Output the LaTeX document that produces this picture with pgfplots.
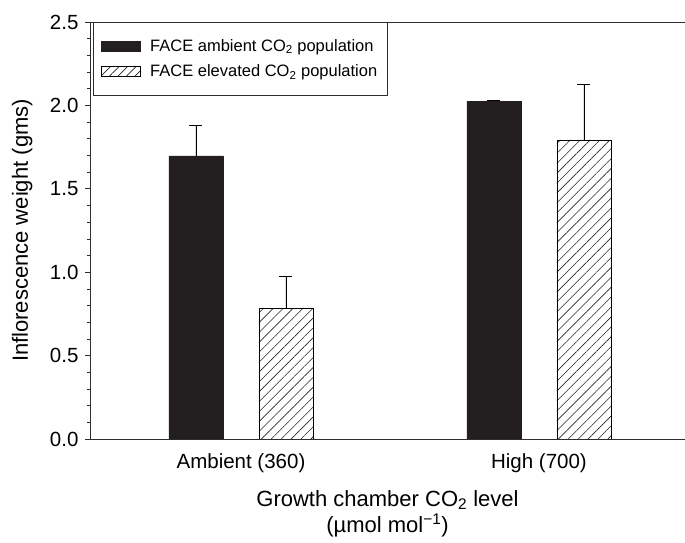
\documentclass[border=0pt]{standalone}
\usepackage{fontspec}
\setmainfont{Liberation Sans}
\usepackage{pgfplots}
\pgfplotsset{compat=1.18}
\usetikzlibrary{patterns.meta}
\definecolor{barblack}{RGB}{35,31,32}
\definecolor{axgray}{RGB}{45,45,45}
\begin{document}
\begin{tikzpicture}
\begin{axis}[
  scale only axis, width=595pt, height=417pt,
  xmin=-0.5067, xmax=1.490, ymin=0, ymax=2.5,
  axis line style={draw=none},
  xtick={0,1}, xticklabels={Ambient (360), High (700)},
  x tick style={draw=none},
  ytick={0,0.5,1,1.5,2,2.5},
  minor y tick num=4,
  ytick pos=left, tick align=outside,
  major tick length=5pt, minor tick length=3pt,
  y tick style={axgray, line width=0.7pt},
  minor y tick style={axgray, line width=0.6pt},
  yticklabel style={/pgf/number format/fixed, /pgf/number format/fixed zerofill, /pgf/number format/precision=1, /pgf/number format/assume math mode=true, xshift=-3pt},
  tick label style={font=\fontsize{20.5}{24}\selectfont},
  xticklabel style={yshift=-6pt},
  ylabel={Inflorescence weight (gms)},
  every axis y label/.style={at={(axis description cs:-0.114,0.5)}, rotate=90, anchor=center, font=\fontsize{22}{26}\selectfont},
  xlabel={Growth chamber CO\textsubscript{2} level\\(µmol mol\textsuperscript{−1})},
  every axis x label/.style={at={(axis description cs:0.5,0)}, anchor=north, yshift=-51pt, align=center, inner sep=0pt, font=\fontsize{22}{26}\selectfont},
  legend style={at={(rel axis cs:0.005,1)}, anchor=north west, draw=axgray, line width=0.8pt,
    font=\fontsize{16.5}{19}\selectfont, inner xsep=8pt, inner ysep=15pt, row sep=8pt, cells={anchor=west}},
  legend cell align=left,
]
\addplot[ybar, bar width=54pt, bar shift=0pt, fill=barblack, draw=barblack,
  legend image code/.code={\draw[fill=barblack, draw=barblack] (0pt,-5pt) rectangle (39pt,5pt); \path (46pt,0pt);},
  error bars/.cd, y dir=plus, y explicit,
  error bar style={line width=0.8pt, black},
  error mark options={rotate=90, mark size=6.5pt, line width=0.8pt, black}]
  coordinates {(-0.151,1.697) +- (0,0.186) (0.849,2.026) +- (0,0.004)};
\addlegendentry{FACE ambient CO\textsubscript{2} population}
\addplot[ybar, bar width=54pt, bar shift=0pt, draw=black, line width=0.8pt,
  pattern={Lines[angle=45,distance=7pt,line width=0.6pt]}, pattern color=black!85,
  legend image code/.code={\draw[draw=black, line width=0.8pt, pattern={Lines[angle=45,distance=6pt,line width=0.6pt]}, pattern color=black!85] (0pt,-5pt) rectangle (39pt,5pt); \path (46pt,0pt);},
  error bars/.cd, y dir=plus, y explicit,
  error bar style={line width=0.8pt, black},
  error mark options={rotate=90, mark size=6.5pt, line width=0.8pt, black}]
  coordinates {(0.151,0.785) +- (0,0.192) (1.151,1.793) +- (0,0.335)};
\addlegendentry{FACE elevated CO\textsubscript{2} population}
\draw[axgray, line width=0.8pt] (rel axis cs:0,1) -- (rel axis cs:0,0) -- (rel axis cs:1,0);
\draw[axgray, line width=0.8pt] (rel axis cs:0,1) -- (rel axis cs:1,1);
\end{axis}
\pgfresetboundingbox
\path[use as bounding box] (-90pt,-103pt) rectangle (595pt,439pt);
\end{tikzpicture}
\end{document}
